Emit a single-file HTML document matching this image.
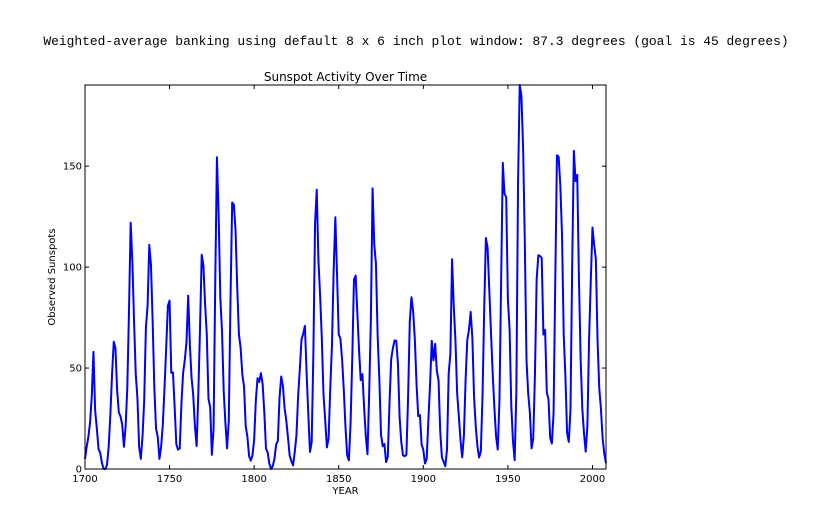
<!DOCTYPE html>
<html><head><meta charset="utf-8">
<style>
html,body{margin:0;padding:0;background:#fff;width:832px;height:518px;overflow:hidden}
text{font-family:"DejaVu Sans","Liberation Sans",sans-serif}
</style></head>
<body>
<svg id="chart" width="832" height="518" xmlns="http://www.w3.org/2000/svg"></svg>
<script>
const years = [];
for (let y = 1700; y <= 2008; y++) years.push(y);
const sunspots = [
5,11,16,23,36,58,29,20,10,8,3,0,0,2,11,27,47,63,60,39,
28,26,22,11,21,40,78,122,103,73,47,35,11,5,16,34,70,81,111,101,
73,40,20,16,5,11,22,40,60,80.9,83.4,47.7,47.8,30.7,12.2,9.6,10.2,32.4,47.6,54,
62.9,85.9,61.2,45.1,36.4,20.9,11.4,37.8,69.8,106.1,100.8,81.6,66.5,34.8,30.6,7,19.8,92.5,154.4,125.9,
84.8,68.1,38.5,22.8,10.2,24.1,82.9,132,130.9,118.1,89.9,66.6,60,46.9,41,21.3,16,6.4,4.1,6.8,
14.5,34,45,43.1,47.5,42.2,28.1,10.1,8.1,2.5,0,1.4,5,12.2,13.9,35.4,45.8,41.1,30.1,23.9,
15.6,6.6,4,1.8,8.5,16.6,36.3,49.6,64.2,67,70.9,47.8,27.5,8.5,13.2,56.9,121.5,138.3,103.2,85.7,
64.6,36.7,24.2,10.7,15,40.1,61.5,98.5,124.7,96.3,66.6,64.5,54.1,39,20.6,6.7,4.3,22.7,54.8,93.8,
95.8,77.2,59.1,44,47,30.5,16.3,7.3,37.6,74,139,111.2,101.6,66.2,44.7,17,11.3,12.4,3.4,6,
32.3,54.3,59.7,63.7,63.5,52.2,25.4,13.1,6.8,6.3,7.1,35.6,73,85.1,78,64,41.8,26.2,26.7,12.1,
9.5,2.7,5,24.4,42,63.5,53.8,62,48.5,43.9,18.6,5.7,3.6,1.4,9.6,47.4,57.1,103.9,80.6,63.6,
37.6,26.1,14.2,5.8,16.7,44.3,63.9,69,77.8,64.9,35.7,21.2,11.1,5.7,8.7,36.1,79.7,114.4,109.6,88.8,
67.8,47.5,30.6,16.3,9.6,33.2,92.6,151.6,136.3,134.7,83.9,69.4,31.5,13.9,4.4,38,141.7,190.2,184.8,159,
112.3,53.9,37.5,27.9,10.2,15.1,47,93.8,105.9,105.5,104.5,66.6,68.9,38,34.5,15.5,12.6,27.5,92.5,155.4,
154.6,140.4,115.9,66.6,45.9,17.9,13.4,29.4,100.2,157.6,142.6,145.7,94.3,54.6,29.9,17.5,8.6,21.5,64.3,93.3,
119.6,111,104,63.7,40.4,29.8,15.2,7.5,2.9];
const xTicks = [1700,1750,1800,1850,1900,1950,2000];
const yTicks = [0,50,100,150];

const L=85,R=606,T=85,B=469;
const xMin=1700,xMax=2008,yMin=0,yMax=Math.max(...sunspots);
const sx=v=>L+(v-xMin)/(xMax-xMin)*(R-L);
const sy=v=>B-(v-yMin)/(yMax-yMin)*(B-T);
const NS="http://www.w3.org/2000/svg";
const svg=document.getElementById('chart');
function mk(tag,attrs,txt){const e=document.createElementNS(NS,tag);for(const k in attrs)e.setAttribute(k,attrs[k]);if(txt!==undefined)e.textContent=txt;svg.appendChild(e);return e;}

let t=mk('text',{x:416,y:45,'text-anchor':'middle','font-size':'12.95','style':'font-family:"Liberation Mono",monospace'},'Weighted-average banking using default 8 x 6 inch plot window: 87.3 degrees (goal is 45 degrees)');


t=mk('text',{x:345.5,y:81,'text-anchor':'middle','font-size':'12'},'Sunspot Activity Over Time');



let d='';
years.forEach((yr,i)=>{d+=(i?'L':'M')+sx(yr).toFixed(2)+','+sy(sunspots[i]).toFixed(2);});
let line=mk('path',{d:d,fill:'none',stroke:'#0000ff','stroke-width':2,'stroke-linejoin':'round'});



let frame=mk('rect',{x:L,y:T,width:R-L,height:B-T,fill:'none',stroke:'#000','stroke-width':1});



xTicks.forEach(v=>{
  const x=sx(v);
  mk('line',{x1:x,y1:B,x2:x,y2:B-4,stroke:'#000'});
  mk('line',{x1:x,y1:T,x2:x,y2:T+4,stroke:'#000'});
  const tl=mk('text',{x:x,y:B+13,'text-anchor':'middle','font-size':'10'},String(v));
  
  
});
yTicks.forEach(v=>{
  const y=sy(v);
  mk('line',{x1:L,y1:y,x2:L+4,y2:y,stroke:'#000'});
  mk('line',{x1:R,y1:y,x2:R-4,y2:y,stroke:'#000'});
  const tl=mk('text',{x:L-3,y:y+3.5,'text-anchor':'end','font-size':'10'},String(v));
  
  
});
t=mk('text',{x:345.5,y:494,'text-anchor':'middle','font-size':'10'},'YEAR');


t=mk('text',{x:0,y:0,'text-anchor':'middle','font-size':'10',transform:'translate(55,277) rotate(-90)'},'Observed Sunspots');


</script>
</body></html>
